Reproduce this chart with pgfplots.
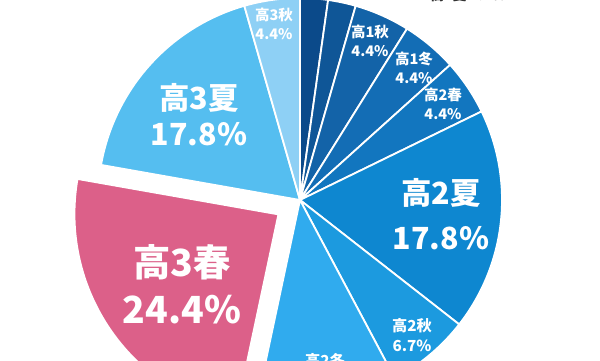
\documentclass[border=0pt]{standalone}
\usepackage{pgfplots}
\pgfplotsset{compat=1.18}
\usepackage{fontspec}
\setmainfont{Noto Sans CJK JP}
\definecolor{cA}{HTML}{0B4A8A}
\definecolor{cB}{HTML}{0F5697}
\definecolor{cC}{HTML}{1363A8}
\definecolor{cD}{HTML}{136DB5}
\definecolor{cE}{HTML}{1276BF}
\definecolor{cF}{HTML}{0E87D0}
\definecolor{cG}{HTML}{1C9ADF}
\definecolor{cH}{HTML}{30ABEE}
\definecolor{cPink}{HTML}{DC6089}
\definecolor{cI}{HTML}{55BEF0}
\definecolor{cJ}{HTML}{8ED0F5}
\begin{document}
\begin{tikzpicture}
\begin{axis}[name=ax, width=6in, height=3.6in, scale only axis, hide axis,
  xmin=0, xmax=600, ymin=-360, ymax=0, clip=true,
  every axis plot/.append style={samples=60, draw=white, line width=1.3pt, line join=round}]
% counts out of 45 (8 degrees each), clockwise from top
% 1spring 1, 1summer 1, 1autumn 2, 1winter 2, 2spring 2, 2summer 8, 2autumn 3, 2winter 5, 3spring 11, 3summer 8, 3autumn 2
\addplot[fill=cA, domain=82:90]   ({300+202*cos(x)},{-200+202*sin(x)}) -- (axis cs:300,-200) -- cycle;
\addplot[fill=cB, domain=74:82]   ({300+202*cos(x)},{-200+202*sin(x)}) -- (axis cs:300,-200) -- cycle;
\addplot[fill=cC, domain=58:74]   ({300+202*cos(x)},{-200+202*sin(x)}) -- (axis cs:300,-200) -- cycle;
\addplot[fill=cD, domain=42:58]   ({300+202*cos(x)},{-200+202*sin(x)}) -- (axis cs:300,-200) -- cycle;
\addplot[fill=cE, domain=26:42]   ({300+202*cos(x)},{-200+202*sin(x)}) -- (axis cs:300,-200) -- cycle;
\addplot[fill=cF, domain=-38:26]  ({300+202*cos(x)},{-200+202*sin(x)}) -- (axis cs:300,-200) -- cycle;
\addplot[fill=cG, domain=-62:-38] ({300+202*cos(x)},{-200+202*sin(x)}) -- (axis cs:300,-200) -- cycle;
\addplot[fill=cH, domain=-102:-62]({300+202*cos(x)},{-200+202*sin(x)}) -- (axis cs:300,-200) -- cycle;
\addplot[fill=cI, domain=-254:-190]({300+202*cos(x)},{-200+202*sin(x)}) -- (axis cs:300,-200) -- cycle;
\addplot[fill=cJ, domain=-270:-254]({300+202*cos(x)},{-200+202*sin(x)}) -- (axis cs:300,-200) -- cycle;
% exploded slice
\addplot[fill=cPink, line width=2pt, domain=-190:-102]({279+205*cos(x)},{-214+205*sin(x)}) -- (axis cs:279,-214) -- cycle;
% labels
\begin{scope}[every node/.style={text=white, font=\bfseries, align=center, inner sep=0pt}]
\node[font=\bfseries\fontsize{10.5}{14}\selectfont] at (axis cs:274,-24) {高3秋\\4.4\%};
\node[font=\bfseries\fontsize{10.5}{14}\selectfont] at (axis cs:370,-41) {高1秋\\4.4\%};
\node[font=\bfseries\fontsize{10.5}{14}\selectfont] at (axis cs:414,-68) {高1冬\\4.4\%};
\node[font=\bfseries\fontsize{10.5}{14}\selectfont] at (axis cs:443,-104) {高2春\\4.4\%};
\node[font=\bfseries\fontsize{22}{33}\selectfont] at (axis cs:441,-214) {高2夏\\17.8\%};
\node[font=\bfseries\fontsize{11}{15}\selectfont] at (axis cs:412,-335) {高2秋\\6.7\%};
\node[font=\bfseries\fontsize{11}{15}\selectfont] at (axis cs:325,-370) {高2冬\\11.1\%};
\node[font=\bfseries\fontsize{27}{34}\selectfont] at (axis cs:182,-284) {高3春\\24.4\%};
\node[font=\bfseries\fontsize{22}{26}\selectfont] at (axis cs:199,-115) {高3夏\\17.8\%};
\end{scope}
\node[text=black!80, font=\bfseries\fontsize{10}{12}\selectfont, inner sep=0pt] at (axis cs:468,5) {高1夏 2.2\%};
\end{axis}
\pgfresetboundingbox
\useasboundingbox (ax.south west) rectangle (ax.north east);
\end{tikzpicture}
\end{document}
